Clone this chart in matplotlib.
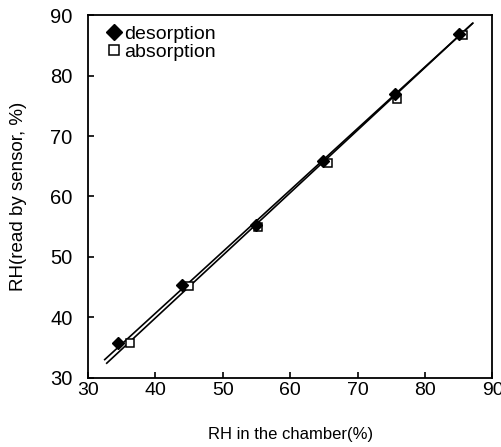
import matplotlib
matplotlib.use("Agg")
import matplotlib.pyplot as plt
import numpy as np

plt.rcParams["font.family"] = ["Liberation Sans", "DejaVu Sans"]

des_x = [34.4, 43.9, 54.9, 64.8, 75.5, 85.1]
des_y = [35.7, 45.3, 55.2, 65.8, 76.9, 86.9]
abs_x = [36.3, 45.0, 55.3, 65.6, 75.9, 85.6]
abs_y = [35.7, 45.2, 55.0, 65.6, 76.1, 86.8]

# fitted lines: slope, intercept, x range
des_fit = (1.02, -0.15, 32.5, 87.1)
abs_fit = (1.037, -1.61, 32.8, 87.0)

ticks = [30, 40, 50, 60, 70, 80, 90]

fig = plt.figure(figsize=(5.02, 4.47), dpi=100)
ax = fig.add_axes([0.175, 0.155, 0.806, 0.811])

for slope, icpt, x0, x1 in (des_fit, abs_fit):
    xs = np.array([x0, x1])
    ax.plot(xs, slope * xs + icpt, color="black", lw=1.2)

ax.plot(abs_x, abs_y, ls="none", marker="s", ms=6, mfc="white",
        mec="black", mew=1.1, label="absorption")
ax.plot(des_x, des_y, ls="none", marker="D", ms=6, color="black",
        label="desorption")

ax.set_xlim(30, 90)
ax.set_ylim(30, 90)
ax.set_xticks(ticks)
ax.set_yticks(ticks)
ax.tick_params(direction="in", length=4, width=1.2, labelsize=14.5)
ax.tick_params(axis="y", pad=11)
ax.tick_params(axis="x", pad=3, labelsize=14)
for s in ax.spines.values():
    s.set_linewidth(1.3)

ax.set_xlabel("RH in the chamber(%)", fontsize=12, labelpad=20)
ax.set_ylabel("RH(read by sensor, %)", fontsize=13.5, labelpad=17)

h, l = ax.get_legend_handles_labels()
ax.legend(h[::-1], l[::-1], loc="upper left", bbox_to_anchor=(0.025, 1.0),
          frameon=False, fontsize=14, markerscale=1.3,
          handlelength=0.6, handletextpad=0.25, borderaxespad=0.1,
          labelspacing=0.05)

fig.savefig("out.png", dpi=100)
